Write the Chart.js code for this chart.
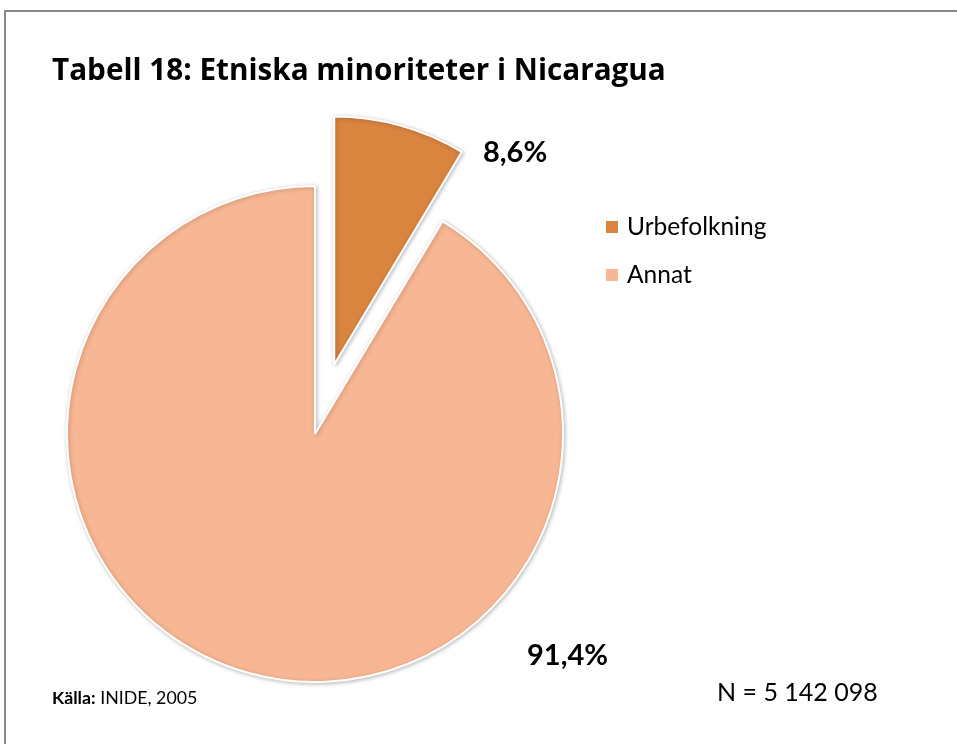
<!DOCTYPE html>
<html>
<head>
<meta charset="utf-8">
<script src="https://cdn.jsdelivr.net/npm/chart.js@4"></script>
<style>
    body { margin: 0; background: #fff; font-family: Lato, sans-serif; }
    #wrap { position: relative; width: 957px; height: 744px; overflow: hidden; }
    #frame { position: absolute; left: 4px; top: 10px; width: 980px; height: 780px; border: 2px solid #8a8a8a; box-sizing: border-box; }
    canvas { position: absolute; left: 0; top: 0; }
    .txt { position: absolute; white-space: nowrap; color: #000; }
    #title { left: 52px; top: 48px; font-family: 'Open Sans', sans-serif; font-size: 29.7px; font-weight: bold; }
    .pct { font-size: 29px; font-weight: bold; }
    #legend { position: absolute; left: 606px; top: 211px; font-size: 24.5px; }
    #legend div { height: 48px; display: flex; align-items: flex-start; }
    #legend span.box { display: inline-block; width: 12px; height: 12px; margin: 10px 9px 0 0; }
    #source { left: 52px; top: 686px; font-size: 17.8px; }
    #count { left: 717px; top: 676px; font-size: 25px; }
</style>
</head>
<body>
<div id="wrap">
    <div id="frame"></div>
    <canvas id="pie-chart" width="957" height="744"></canvas>
    <div id="title" class="txt">Tabell 18: Etniska minoriteter i Nicaragua</div>
    <div class="txt pct" style="left:483px; top:133px;">8,6%</div>
    <div class="txt pct" style="left:527px; top:636px;">91,4%</div>
    <div id="legend"></div>
    <div id="source" class="txt"><b>Källa:</b> INIDE, 2005</div>
    <div id="count" class="txt">N = 5 142 098</div>
</div>
<script>
// Dữ liệu
const categories = ['Urbefolkning', 'Annat'];
const shares = [8.6, 91.4];
const sliceColors = ['#d9843f', '#f8b794'];
const explode = [72, 0]; // khoảng tách lát (px)

// Chú giải
const legendEl = document.getElementById('legend');
categories.forEach((name, i) => {
    const row = document.createElement('div');
    row.innerHTML = `<span class="box" style="background:${sliceColors[i]}"></span>${name}`;
    legendEl.appendChild(row);
});

// Tách lát ra theo hướng giữa góc, giữ nguyên bán kính và góc
const explodePlugin = {
    id: 'explodeSlices',
    afterDatasetsUpdate(chart) {
        chart.getDatasetMeta(0).data.forEach((arc, i) => {
            const mid = (arc.startAngle + arc.endAngle) / 2;
            arc.x += Math.cos(mid) * explode[i];
            arc.y += Math.sin(mid) * explode[i];
        });
    }
};

// Bóng nhẹ cho các lát
const shadowPlugin = {
    id: 'softShadow',
    beforeDatasetsDraw(chart) {
        const ctx = chart.ctx;
        ctx.save();
        ctx.shadowColor = 'rgba(0,0,0,0.25)';
        ctx.shadowBlur = 4;
        ctx.shadowOffsetX = 1;
        ctx.shadowOffsetY = 1;
    },
    afterDatasetsDraw(chart) {
        chart.ctx.restore();
    }
};

const ctx = document.getElementById('pie-chart').getContext('2d');
const pieChart = new Chart(ctx, {
    type: 'pie',
    data: {
        labels: categories,
        datasets: [{
            data: shares,
            backgroundColor: sliceColors,
            borderColor: '#ffffff',
            borderWidth: 2
        }]
    },
    options: {
        responsive: false,
        animation: false,
        radius: 248,
        layout: { padding: { left: 65, right: 392, top: 184, bottom: 60 } },
        plugins: {
            legend: { display: false },
            tooltip: { enabled: false }
        }
    },
    plugins: [explodePlugin, shadowPlugin]
});
</script>
</body>
</html>
